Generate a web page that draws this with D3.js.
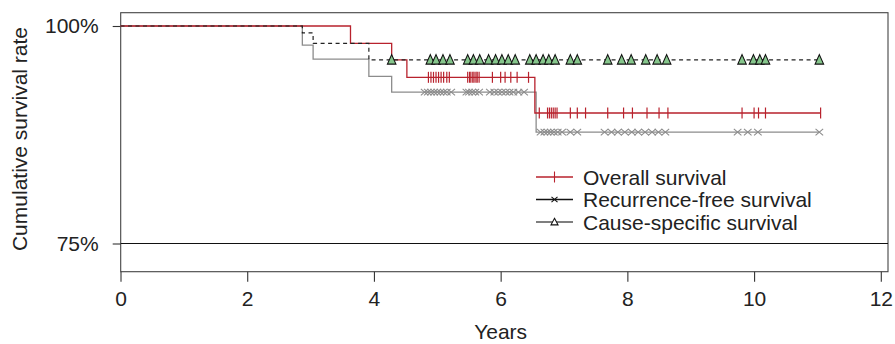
<!DOCTYPE html>
<html>
<head>
<meta charset="utf-8">
<script src="https://cdn.jsdelivr.net/npm/d3@7"></script>
<style>
  html, body { margin: 0; padding: 0; background: #fff; }
  svg { display: block; font-family: "Liberation Sans", Arial, Helvetica, sans-serif; }
</style>
</head>
<body>
<svg id="chart" width="895" height="344"></svg>
<script>
// ─── data (years, survival %) ────────────────────────────────────────────────

const xTicks = [0, 2, 4, 6, 8, 10, 12];
const yTicks = [75, 100];
const yTickLabels = ['75%', '100%'];

// step changes: [time, survival after the drop]
const osSteps = [[3.63, 98.0], [4.28, 96.1], [4.52, 94.1], [6.54, 90.0]];
const rfsSteps = [[2.87, 97.8], [3.04, 96.2], [3.92, 94.2], [4.28, 92.4], [6.56, 87.8]];
const cssSteps = [[2.87, 99.2], [3.04, 98.0], [3.92, 96.1]];

const osEnd = 11.05;
const rfsEnd = 11.03;
const cssEnd = 11.03;

// censoring times
const osCensor = [
  4.86, 4.90, 4.94, 4.98, 5.02, 5.06, 5.10, 5.15, 5.19,
  5.48, 5.51, 5.53, 5.56, 5.58, 5.61, 5.63, 5.66,
  5.87, 6.00, 6.07, 6.16, 6.26, 6.44,
  6.61, 6.74, 6.77, 6.80, 6.83, 6.86, 6.89, 7.10, 7.21, 7.34,
  7.69, 7.94, 8.08, 8.31, 8.50, 8.64, 9.81, 10.00, 10.07, 10.18, 11.05,
];
const rfsCensor = [
  4.80, 4.85, 4.90, 4.95, 5.00, 5.05, 5.10, 5.15, 5.22,
  5.46, 5.50, 5.55, 5.60, 5.66,
  5.83, 5.90, 5.96, 6.02, 6.08, 6.14, 6.20, 6.28, 6.37,
  6.63, 6.69, 6.74, 6.79, 6.84, 6.90, 6.97, 7.10, 7.21,
  7.64, 7.75, 7.85, 7.96, 8.07, 8.17, 8.28, 8.39, 8.49, 8.60,
  9.74, 9.90, 10.06, 11.03,
];
const cssCensor = [
  4.28, 4.89, 4.98, 5.09, 5.20, 5.48, 5.57, 5.67,
  5.81, 5.92, 6.02, 6.12, 6.23, 6.46, 6.56, 6.67, 6.76, 6.86,
  7.10, 7.21, 7.69, 7.91, 8.06, 8.29, 8.47, 8.62,
  9.81, 9.99, 10.09, 10.18, 11.03,
];

const legendLabels = ['Overall survival', 'Recurrence-free survival', 'Cause-specific survival'];

// ─── layout ──────────────────────────────────────────────────────────────────

const RED = '#b8222d';
const GRAY = '#8c8c8c';
const GREEN = '#86c68c';
const FONT = 21;

const box = { left: 120.7, right: 888, top: 12.7, bottom: 271.7 };

const svg = d3.select('#chart');
const x = d3.scaleLinear().domain([0, 12]).range([120.5, 880.8]);
const y = d3.scaleLinear().domain([75, 100]).range([243.5, 26]);

// ─── helpers ─────────────────────────────────────────────────────────────────

function stepPoints(steps, end) {
  const pts = [[0, 100]];
  let s = 100;
  for (const [t, v] of steps) {
    pts.push([t, s]);
    pts.push([t, v]);
    s = v;
  }
  pts.push([end, s]);
  return pts;
}

function survAt(steps, t) {
  let s = 100;
  for (const [st, v] of steps) if (st <= t) s = v;
  return s;
}

const line = d3.line().x((d) => x(d[0])).y((d) => y(d[1]));

function tickPath(cx, cy) {
  return `M${cx},${cy - 5.5}V${cy + 5.5}`;
}
function crossPath(cx, cy, w, h) {
  return `M${cx - w},${cy - h}L${cx + w},${cy + h}M${cx - w},${cy + h}L${cx + w},${cy - h}`;
}
function triPath(cx, cy, w, h) {
  return `M${cx},${cy - h * 0.56}L${cx + w / 2},${cy + h * 0.44}L${cx - w / 2},${cy + h * 0.44}Z`;
}

// ─── frame and axes ──────────────────────────────────────────────────────────

svg.append('rect')
  .attr('x', box.left).attr('y', box.top)
  .attr('width', box.right - box.left).attr('height', box.bottom - box.top)
  .attr('fill', 'none').attr('stroke', '#444').attr('stroke-width', 1.1);

// 75% reference line
svg.append('line')
  .attr('x1', box.left).attr('x2', box.right)
  .attr('y1', y(75)).attr('y2', y(75))
  .attr('stroke', '#111').attr('stroke-width', 1.2);

const xAxis = svg.append('g')
  .attr('transform', `translate(0,${box.bottom})`)
  .call(d3.axisBottom(x).tickValues(xTicks).tickSize(10).tickPadding(9).tickFormat(d3.format('d')));
xAxis.select('.domain').remove();
xAxis.selectAll('line').attr('stroke', '#333').attr('stroke-width', 1.1);
xAxis.selectAll('text').attr('font-size', FONT).attr('fill', '#222').attr('font-family', null);

const yAxis = svg.append('g')
  .attr('transform', `translate(${box.left},0)`)
  .call(d3.axisLeft(y).tickValues(yTicks).tickSize(8).tickPadding(14)
    .tickFormat((d, i) => yTickLabels[i]));
yAxis.select('.domain').remove();
yAxis.selectAll('line').attr('stroke', '#333').attr('stroke-width', 1.1);
yAxis.selectAll('text').attr('font-size', FONT).attr('fill', '#222').attr('font-family', null);

svg.append('text')
  .attr('x', (x(0) + x(12)) / 2).attr('y', 331)
  .attr('text-anchor', 'middle').attr('dominant-baseline', 'central')
  .attr('font-size', FONT).attr('fill', '#222')
  .text('Years');

svg.append('text')
  .attr('transform', 'translate(19,139) rotate(-90)')
  .attr('text-anchor', 'middle').attr('dominant-baseline', 'central')
  .attr('font-size', FONT).attr('fill', '#222')
  .text('Cumulative survival rate');

// ─── curves ──────────────────────────────────────────────────────────────────

svg.append('path').datum(stepPoints(rfsSteps, rfsEnd))
  .attr('d', line).attr('fill', 'none').attr('stroke', GRAY).attr('stroke-width', 1.3);
svg.append('path').datum(stepPoints(osSteps, osEnd))
  .attr('d', line).attr('fill', 'none').attr('stroke', RED).attr('stroke-width', 1.3);
svg.append('path').datum(stepPoints(cssSteps, cssEnd))
  .attr('d', line).attr('fill', 'none').attr('stroke', '#222').attr('stroke-width', 1.2)
  .attr('stroke-dasharray', '4,3.5');

// censor marks
svg.append('g').selectAll('path').data(rfsCensor).join('path')
  .attr('d', (t) => crossPath(x(t), y(survAt(rfsSteps, t)), 3.8, 3.3))
  .attr('fill', 'none').attr('stroke', GRAY).attr('stroke-width', 1.1);
svg.append('g').selectAll('path').data(osCensor).join('path')
  .attr('d', (t) => tickPath(x(t), y(survAt(osSteps, t))))
  .attr('fill', 'none').attr('stroke', RED).attr('stroke-width', 1.2);
svg.append('g').selectAll('path').data(cssCensor).join('path')
  .attr('d', (t) => triPath(x(t), y(survAt(cssSteps, t)), 8.5, 9.5))
  .attr('fill', GREEN).attr('stroke', '#111').attr('stroke-width', 1.1)
  .attr('stroke-linejoin', 'miter');

// ─── legend ──────────────────────────────────────────────────────────────────

const legendColors = [RED, '#111', '#555'];
const lg = svg.append('g');
const ly = d3.scalePoint().domain(legendLabels).range([177, 222]);
legendLabels.forEach((label, i) => {
  const cy = ly(label);
  lg.append('line')
    .attr('x1', 536).attr('x2', 573).attr('y1', cy).attr('y2', cy)
    .attr('stroke', legendColors[i]).attr('stroke-width', 1.3);
  const mark = lg.append('path').attr('stroke', legendColors[i]).attr('stroke-width', 1.1);
  if (i === 0) mark.attr('d', tickPath(554.5, cy)).attr('fill', 'none');
  if (i === 1) mark.attr('d', crossPath(554.5, cy, 3, 2.6)).attr('fill', 'none');
  if (i === 2) mark.attr('d', triPath(554.5, cy, 7, 6.5)).attr('fill', '#fff').attr('stroke', '#111');
  lg.append('text')
    .attr('x', 583).attr('y', cy)
    .attr('dominant-baseline', 'central')
    .attr('font-size', FONT).attr('fill', '#222')
    .text(label);
});
</script>
</body>
</html>
